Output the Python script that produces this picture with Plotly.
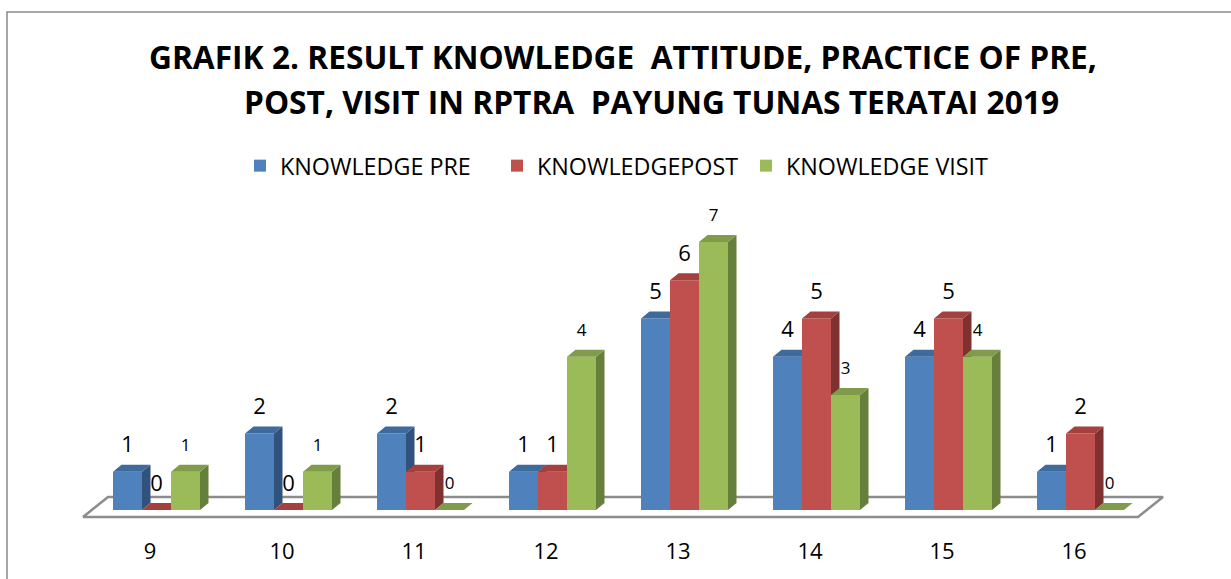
import plotly.graph_objects as go

# ---------------- data ----------------
categories = ["9", "10", "11", "12", "13", "14", "15", "16"]
knowledge_pre = [1, 2, 2, 1, 5, 4, 4, 1]
knowledge_post = [0, 0, 1, 1, 6, 5, 5, 2]
knowledge_visit = [1, 1, 0, 4, 7, 3, 4, 0]
series_names = ["KNOWLEDGE PRE", "KNOWLEDGEPOST", "KNOWLEDGE VISIT"]
title_lines = ["GRAFIK 2. RESULT KNOWLEDGE  ATTITUDE, PRACTICE OF PRE,",
               "POST, VISIT IN RPTRA  PAYUNG TUNAS TERATAI 2019"]

series_values = [knowledge_pre, knowledge_post, knowledge_visit]

# ---------------- geometry / style ----------------
W, H = 1231, 579
ML, MR, MT, MB = 20, 20, 190, 49
PW, PH = W - ML - MR, H - MT - MB
CAT_PX0, CAT_STEP = 150, 132.0      # pixel of first category label, spacing
BASE_PX, UNIT_PX = 510, 38.3        # pixel of value 0, pixels per unit

x_range = [(ML - CAT_PX0) / CAT_STEP, (W - MR - CAT_PX0) / CAT_STEP]
y_range = [-(H - MB - BASE_PX) / UNIT_PX, (BASE_PX - MT) / UNIT_PX]

BAR_W = 29 / CAT_STEP
OFFSETS = [-22.5 / CAT_STEP, 6.5 / CAT_STEP, 35.5 / CAT_STEP]
DX, DY = 8.5 / CAT_STEP, 7 / UNIT_PX
LABEL_GAP = 25 / UNIT_PX

FRONT = ["#4F81BD", "#C0504D", "#9BBB59"]
TOP = ["#3E6A9C", "#A4413E", "#809C4A"]
SIDE = ["#30527C", "#7F312F", "#667F3B"]
LABEL_SIZE = [22, 22, 17]
FONT = "Open Sans"


def px_to_paper_x(px):
    return (px - ML) / PW


def px_to_paper_y(py):
    return (H - MB - py) / PH


fig = go.Figure()

# floor (on base axes)
n = len(categories)
f_front = -(517 - BASE_PX) / UNIT_PX
f_back = (BASE_PX - 497) / UNIT_PX
f_shift = 25 / CAT_STEP
fl = (83 - CAT_PX0) / CAT_STEP
fr = fl + (1138 - 83) / CAT_STEP
fig.add_trace(go.Scatter(
    x=[fl, fr, fr + f_shift, fl + f_shift, fl],
    y=[f_front, f_front, f_back, f_back, f_front],
    mode="lines", fill="toself", fillcolor="white",
    line=dict(color="#8C8C8C", width=2.5),
    hoverinfo="skip", showlegend=False, xaxis="x", yaxis="y"))

axis_ids = [("x2", "y2"), ("x3", "y3"), ("x4", "y4")]
legend_ids = ["legend", "legend2", "legend3"]

for s, vals in enumerate(series_values):
    xa, ya = axis_ids[s]
    xc = [i + OFFSETS[s] for i in range(n)]
    fig.add_trace(go.Bar(
        x=xc, y=vals, width=BAR_W, name=series_names[s],
        marker=dict(color=FRONT[s], line=dict(width=0)),
        xaxis=xa, yaxis=ya, legend=legend_ids[s],
        hoverinfo="skip", showlegend=True))
    # side faces
    sx, sy = [], []
    for c, v in zip(xc, vals):
        xr = c + BAR_W / 2
        if v > 0:
            sx += [xr, xr + DX, xr + DX, xr, xr, None]
            sy += [0, DY, v + DY, v, 0, None]
    fig.add_trace(go.Scatter(
        x=sx, y=sy, mode="lines", fill="toself", fillcolor=SIDE[s],
        line=dict(width=0, color=SIDE[s]), hoverinfo="skip",
        showlegend=False, xaxis=xa, yaxis=ya))
    # top faces
    tx, ty = [], []
    for c, v in zip(xc, vals):
        xl, xr = c - BAR_W / 2, c + BAR_W / 2
        tx += [xl, xr, xr + DX, xl + DX, xl, None]
        ty += [v, v, v + DY, v + DY, v, None]
    fig.add_trace(go.Scatter(
        x=tx, y=ty, mode="lines", fill="toself", fillcolor=TOP[s],
        line=dict(width=0, color=TOP[s]), hoverinfo="skip",
        showlegend=False, xaxis=xa, yaxis=ya))

# data labels, on top
for s, vals in enumerate(series_values):
    fig.add_trace(go.Scatter(
        x=[i + OFFSETS[s] for i in range(n)],
        y=[v + LABEL_GAP for v in vals],
        text=[str(v) for v in vals], mode="text",
        textposition="middle center",
        textfont=dict(family=FONT, size=LABEL_SIZE[s], color="black"),
        hoverinfo="skip", showlegend=False, xaxis="x4", yaxis="y4"))

layout = dict(
    width=W, height=H,
    margin=dict(l=ML, r=MR, t=MT, b=MB, autoexpand=False),
    paper_bgcolor="white", plot_bgcolor="white",
    barmode="overlay",
    font=dict(family=FONT, color="black"),
    xaxis=dict(range=x_range, tickmode="array", tickvals=list(range(n)),
               ticktext=categories, showgrid=False, zeroline=False,
               showline=False, ticks="", tickfont=dict(size=22, family=FONT),
               ticklabelstandoff=6, fixedrange=True),
    yaxis=dict(range=y_range, visible=False, fixedrange=True),
)
for k in range(2, 5):
    layout[f"xaxis{k}"] = dict(range=x_range, overlaying="x", visible=False)
    layout[f"yaxis{k}"] = dict(range=y_range, overlaying="y", visible=False)

legend_text_px = [285, 542, 791]
for s, lid in enumerate(legend_ids):
    layout[lid] = dict(
        xref="container", yref="container",
        x=(legend_text_px[s] - 45) / W, y=1 - 166 / H,
        xanchor="left", yanchor="middle", orientation="h",
        bgcolor="rgba(0,0,0,0)", borderwidth=0,
        font=dict(family=FONT, size=23.3, color="black"))

fig.update_layout(**layout)

# title (two lines)
title_pos = [(623, 56), (651, 101)]
for txt, (px, py) in zip(title_lines, title_pos):
    fig.add_annotation(
        text=f"<b>{txt}</b>", xref="paper", yref="paper",
        x=px_to_paper_x(px), y=px_to_paper_y(py),
        xanchor="center", yanchor="middle", showarrow=False,
        font=dict(family=FONT, size=31.7, color="black"))

# chart border
fig.add_shape(type="rect", xref="paper", yref="paper",
              x0=px_to_paper_x(7), x1=px_to_paper_x(W + 20),
              y0=px_to_paper_y(H + 20), y1=px_to_paper_y(12),
              line=dict(color="#898989", width=1.5), layer="below")

fig.write_html("out.html", config={"displayModeBar": False},
               post_script="document.body.style.margin='0';")
